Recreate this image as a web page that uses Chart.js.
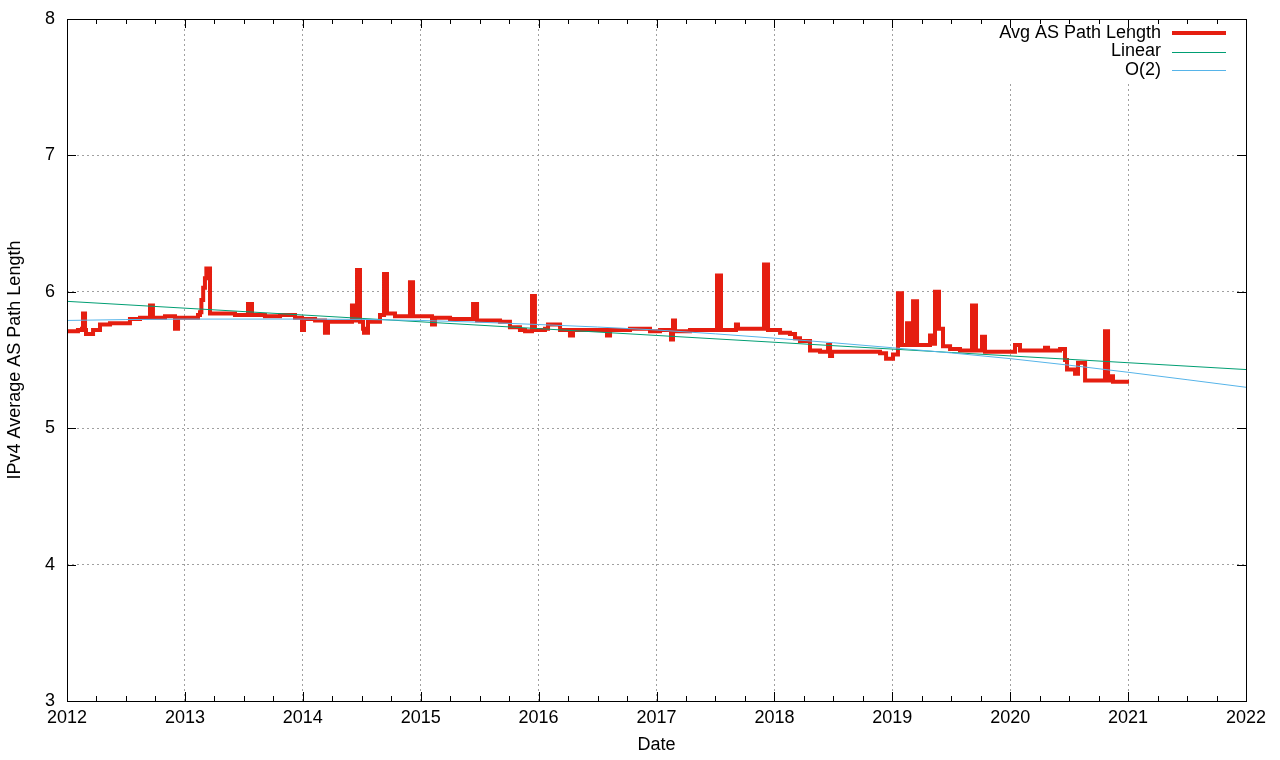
<!DOCTYPE html>
<html>
<head>
<meta charset="utf-8">
<title>IPv4 Average AS Path Length</title>
<script src="https://cdn.jsdelivr.net/npm/chart.js@4/dist/chart.umd.min.js"></script>
<style>
  html, body { margin: 0; padding: 0; background: #fff; }
</style>
</head>
<body>
<canvas id="pathchart" width="1280" height="760"></canvas>
<script>
// data (decimal years)
const avgDates = [
  2012.000, 2012.093, 2012.127, 2012.136, 2012.153, 2012.161, 2012.221, 2012.280, 2012.365, 2012.450,
  2012.534, 2012.619, 2012.704, 2012.729, 2012.831, 2012.916, 2012.942, 2013.043, 2013.111, 2013.128,
  2013.140, 2013.155, 2013.170, 2013.182, 2013.213, 2013.298, 2013.425, 2013.535, 2013.569, 2013.679,
  2013.807, 2013.934, 2013.993, 2014.010, 2014.104, 2014.188, 2014.214, 2014.316, 2014.417, 2014.443,
  2014.460, 2014.485, 2014.511, 2014.519, 2014.553, 2014.612, 2014.655, 2014.689, 2014.714, 2014.782,
  2014.909, 2014.935, 2015.037, 2015.096, 2015.121, 2015.249, 2015.376, 2015.444, 2015.478, 2015.588,
  2015.673, 2015.757, 2015.842, 2015.885, 2015.944, 2015.969, 2016.054, 2016.080, 2016.182, 2016.266,
  2016.292, 2016.436, 2016.580, 2016.606, 2016.775, 2016.945, 2017.030, 2017.123, 2017.140, 2017.157,
  2017.284, 2017.411, 2017.513, 2017.547, 2017.674, 2017.691, 2017.793, 2017.912, 2017.946, 2018.048,
  2018.132, 2018.175, 2018.217, 2018.302, 2018.387, 2018.455, 2018.472, 2018.489, 2018.641, 2018.811,
  2018.896, 2018.947, 2019.006, 2019.048, 2019.082, 2019.125, 2019.150, 2019.176, 2019.210, 2019.320,
  2019.345, 2019.362, 2019.396, 2019.430, 2019.490, 2019.574, 2019.676, 2019.710, 2019.761, 2019.786,
  2019.914, 2020.041, 2020.083, 2020.295, 2020.321, 2020.423, 2020.465, 2020.482, 2020.550, 2020.575,
  2020.635, 2020.762, 2020.804, 2020.830, 2020.847, 2020.872, 2021.008
];
const avgValues = [
  5.71, 5.72, 5.73, 5.84, 5.72, 5.69, 5.72, 5.76, 5.77, 5.77,
  5.80, 5.81, 5.90, 5.81, 5.82, 5.73, 5.81, 5.81, 5.83, 5.85,
  5.94, 6.03, 6.10, 6.17, 5.84, 5.84, 5.83, 5.91, 5.83, 5.82,
  5.83, 5.81, 5.72, 5.80, 5.79, 5.70, 5.78, 5.78, 5.90, 5.79,
  6.16, 5.78, 5.73, 5.70, 5.78, 5.78, 5.83, 6.13, 5.84, 5.82,
  6.07, 5.82, 5.82, 5.76, 5.81, 5.80, 5.80, 5.91, 5.79, 5.79,
  5.78, 5.74, 5.72, 5.71, 5.97, 5.72, 5.73, 5.76, 5.72, 5.68,
  5.72, 5.72, 5.68, 5.72, 5.73, 5.71, 5.72, 5.65, 5.79, 5.71,
  5.72, 5.72, 6.12, 5.72, 5.76, 5.73, 5.73, 6.20, 5.72, 5.70,
  5.69, 5.66, 5.64, 5.57, 5.56, 5.61, 5.53, 5.56, 5.56, 5.56,
  5.55, 5.51, 5.54, 5.99, 5.61, 5.77, 5.61, 5.93, 5.61, 5.68,
  5.62, 6.00, 5.73, 5.60, 5.58, 5.57, 5.90, 5.57, 5.67, 5.56,
  5.56, 5.61, 5.57, 5.59, 5.57, 5.58, 5.50, 5.43, 5.40, 5.48,
  5.35, 5.35, 5.71, 5.35, 5.38, 5.34, 5.34
];

const linearDates = [2012, 2022];
const linearValues = [5.93, 5.43];

const quadDates = [2012, 2013, 2014, 2015, 2016, 2017, 2018, 2019, 2020, 2021, 2022];
const quadValues = [5.79, 5.80, 5.80, 5.79, 5.76, 5.72, 5.66, 5.59, 5.51, 5.41, 5.30];

const yearTicks = [2012, 2013, 2014, 2015, 2016, 2017, 2018, 2019, 2020, 2021, 2022];
const valueTicks = [3, 4, 5, 6, 7, 8];

const seriesLabels = ["Avg AS Path Length", "Linear", "O(2)"];
const seriesColors = ["rgb(229,30,16)", "rgb(0,158,115)", "rgb(86,180,233)"];

const FONT = { family: "'Liberation Sans', Arial, sans-serif", size: 18 };

function toPoints(xs, ys) {
  return xs.map((x, i) => ({ x: x, y: ys[i] }));
}

// frame, inward ticks and the gnuplot style key
const framePlugin = {
  id: "frame",
  afterDatasetsDraw(chart) {
    const ctx = chart.ctx;
    const a = chart.chartArea;
    const xs = chart.scales.x;
    const ys = chart.scales.y;
    ctx.save();

    // key background hides grid lines under it
    ctx.fillStyle = "#fff";
    ctx.fillRect(988, a.top + 1, a.right - 989, 62);

    ctx.strokeStyle = "#000";
    ctx.lineWidth = 1;
    ctx.beginPath();
    // x ticks: majors each year, minors each quarter
    for (let q = 2012 * 4; q <= 2022 * 4; q++) {
      const px = Math.round(xs.getPixelForValue(q / 4)) + 0.5;
      const len = q % 4 === 0 ? 9 : 5;
      ctx.moveTo(px, a.bottom); ctx.lineTo(px, a.bottom - len);
      ctx.moveTo(px, a.top); ctx.lineTo(px, a.top + len);
    }
    valueTicks.forEach(v => {
      const py = Math.round(ys.getPixelForValue(v)) + 0.5;
      ctx.moveTo(a.left, py); ctx.lineTo(a.left + 9, py);
      ctx.moveTo(a.right, py); ctx.lineTo(a.right - 9, py);
    });
    ctx.stroke();
    ctx.strokeRect(Math.round(a.left) + 0.5, Math.round(a.top) + 0.5,
                   Math.round(a.right - a.left), Math.round(a.bottom - a.top));

    // key
    ctx.font = FONT.size + "px " + FONT.family;
    ctx.textAlign = "right";
    ctx.textBaseline = "middle";
    ctx.fillStyle = "#000";
    const widths = [4, 1, 1];
    seriesLabels.forEach((label, i) => {
      const ry = 33 + i * 18.5;
      ctx.fillText(label, 1161, ry);
      ctx.strokeStyle = seriesColors[i];
      ctx.lineWidth = widths[i];
      ctx.beginPath();
      ctx.moveTo(1172, Math.round(ry) + (widths[i] === 1 ? 0.5 : 0));
      ctx.lineTo(1226, Math.round(ry) + (widths[i] === 1 ? 0.5 : 0));
      ctx.stroke();
    });
    ctx.restore();
  }
};

const ctx = document.getElementById("pathchart").getContext("2d");

new Chart(ctx, {
  type: "line",
  data: {
    datasets: [
      {
        label: seriesLabels[0],
        data: toPoints(avgDates, avgValues),
        borderColor: seriesColors[0],
        borderWidth: 4,
        stepped: "before",
        pointRadius: 0,
        borderJoinStyle: "miter",
        borderCapStyle: "butt",
        order: 3
      },
      {
        label: seriesLabels[1],
        data: toPoints(linearDates, linearValues),
        borderColor: seriesColors[1],
        borderWidth: 1,
        pointRadius: 0,
        order: 2
      },
      {
        label: seriesLabels[2],
        data: toPoints(quadDates, quadValues),
        borderColor: seriesColors[2],
        borderWidth: 1,
        pointRadius: 0,
        cubicInterpolationMode: "monotone",
        order: 1
      }
    ]
  },
  options: {
    responsive: false,
    animation: false,
    events: [],
    layout: { padding: { top: 19, right: 34, left: 0, bottom: 0 } },
    plugins: {
      legend: { display: false },
      tooltip: { enabled: false }
    },
    scales: {
      x: {
        type: "linear",
        min: 2012,
        max: 2022,
        afterFit(s) { s.height = 59; s.paddingLeft = 0; s.paddingRight = 0; },
        afterBuildTicks(s) { s.ticks = yearTicks.map(v => ({ value: v })); },
        ticks: {
          color: "#000",
          font: FONT,
          padding: 6,
          maxRotation: 0,
          autoSkip: false,
          callback: v => String(v)
        },
        grid: { color: "#a0a0a0", lineWidth: 1, drawTicks: false },
        border: { display: false, dash: [2, 3] },
        title: {
          display: true,
          text: "Date",
          color: "#000",
          font: FONT,
          padding: { top: 0, bottom: 4 }
        }
      },
      y: {
        min: 3,
        max: 8,
        afterFit(s) { s.width = 67; s.paddingTop = 0; s.paddingBottom = 0; },
        afterBuildTicks(s) { s.ticks = valueTicks.map(v => ({ value: v })); },
        ticks: { color: "#000", font: FONT, padding: 12 },
        grid: { color: "#a0a0a0", lineWidth: 1, drawTicks: false },
        border: { display: false, dash: [2, 3] },
        title: {
          display: true,
          text: "IPv4 Average AS Path Length",
          color: "#000",
          font: FONT,
          padding: { top: 4, bottom: 0 }
        }
      }
    }
  },
  plugins: [framePlugin]
});
</script>
</body>
</html>
